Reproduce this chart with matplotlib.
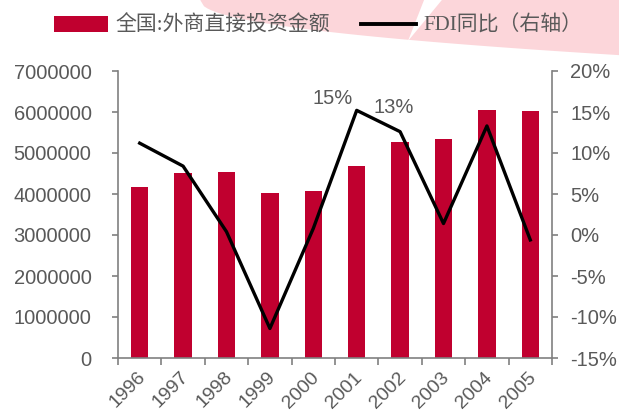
import numpy as np
import matplotlib
matplotlib.use("Agg")
import matplotlib.pyplot as plt
from matplotlib.lines import Line2D
from matplotlib.patches import Patch
import matplotlib.transforms as mtransforms

years = ["1996", "1997", "1998", "1999", "2000", "2001", "2002", "2003", "2004", "2005"]
fdi_amount = [4160000, 4510000, 4540000, 4030000, 4070000, 4680000, 5270000, 5340000, 6060000, 6030000]
fdi_yoy = [11.2, 8.4, 0.4, -11.4, 0.8, 15.2, 12.6, 1.4, 13.3, -0.6]

RED = "#c0002f"
GRAY = "#808080"
TXT = "#595959"
PINK = "#fcd6da"

plt.rcParams["font.family"] = ["Liberation Sans", "DejaVu Sans"]

W, H = 619, 417
fig = plt.figure(figsize=(W / 100, H / 100), dpi=100)

# decorative pink swoosh at the top, drawn in a background axes in pixel units
bg = fig.add_axes([0, 0, 1, 1], zorder=-10)
bg.set_xlim(0, W)
bg.set_ylim(H, 0)
bg.axis("off")
sx = np.linspace(200, 619, 120)
sy = 3.2 * (sx - 200) ** 0.47
bg.fill_between(sx, -5, sy, color=PINK, linewidth=0)
bg.fill([426, 446, 408], [-5, -5, 41], color="white", linewidth=0)

ax = fig.add_axes([118 / W, 1 - 358 / H, (552 - 118) / W, (358 - 71) / H])
ax.patch.set_alpha(0)
x = np.arange(len(years))
ax.bar(x, fdi_amount, width=0.4, color=RED, zorder=2)
ax.set_xlim(-0.5, len(years) - 0.5)
ax.set_ylim(0, 7000000)
ax.set_yticks(np.arange(0, 7000001, 1000000))
ax.set_yticklabels([str(v) for v in range(0, 7000001, 1000000)])

ax2 = ax.twinx()
ax2.patch.set_alpha(0)
ax2.plot(x, fdi_yoy, color="black", linewidth=2.4, zorder=3)
ax2.set_ylim(-15, 20)
ax2.set_yticks(np.arange(-15, 21, 5))
ax2.set_yticklabels([f"{v}%" for v in range(-15, 21, 5)])

ax2.text(x[5] - 0.55, fdi_yoy[5] + 1.4, "15%", fontsize=14.5, color=TXT, ha="center", va="center")
ax2.text(x[6] - 0.15, fdi_yoy[6] + 2.9, "13%", fontsize=14.5, color=TXT, ha="center", va="center")

for a in (ax, ax2):
    a.spines["top"].set_visible(False)
    for s in ("left", "right", "bottom"):
        a.spines[s].set_color(GRAY)
        a.spines[s].set_linewidth(1.2)
ax.spines["right"].set_visible(False)
ax2.spines["left"].set_visible(False)
ax2.spines["bottom"].set_visible(False)

ax.tick_params(axis="y", length=4, width=1.2, color=GRAY, labelcolor=TXT, labelsize=14.5, pad=15)
ax2.tick_params(axis="y", length=4, width=1.2, color=GRAY, labelcolor=TXT, labelsize=14.5, pad=9)

ax.set_xticks(x)
ax.set_xticks(np.arange(-0.5, len(years), 1), minor=True)
ax.tick_params(axis="x", which="major", length=0, labelcolor=TXT, labelsize=14, pad=12)
ax.tick_params(axis="x", which="minor", length=5, width=1.2, color=GRAY)
ax.set_xticklabels(years, rotation=45, ha="right", va="center", rotation_mode="anchor")
offset = mtransforms.ScaledTranslation(0.03, 0, fig.dpi_scale_trans)
for lab in ax.get_xticklabels():
    lab.set_transform(lab.get_transform() + offset)

handles = [Patch(facecolor=RED, edgecolor="none"), Line2D([0], [0], color="black", linewidth=2.8)]
leg = fig.legend(handles, ["全国:外商直接投资金额", "FDI同比（右轴）"], loc="center",
                 bbox_to_anchor=(318 / W, 1 - 26 / H), ncol=2, frameon=False,
                 prop={"family": ["Liberation Serif", "Noto Sans CJK SC"], "size": 15},
                 handlelength=2.6, handleheight=0.8, handletextpad=0.35, columnspacing=1.5)
for t in leg.get_texts():
    t.set_color(TXT)

fig.savefig("out.png", dpi=100)
